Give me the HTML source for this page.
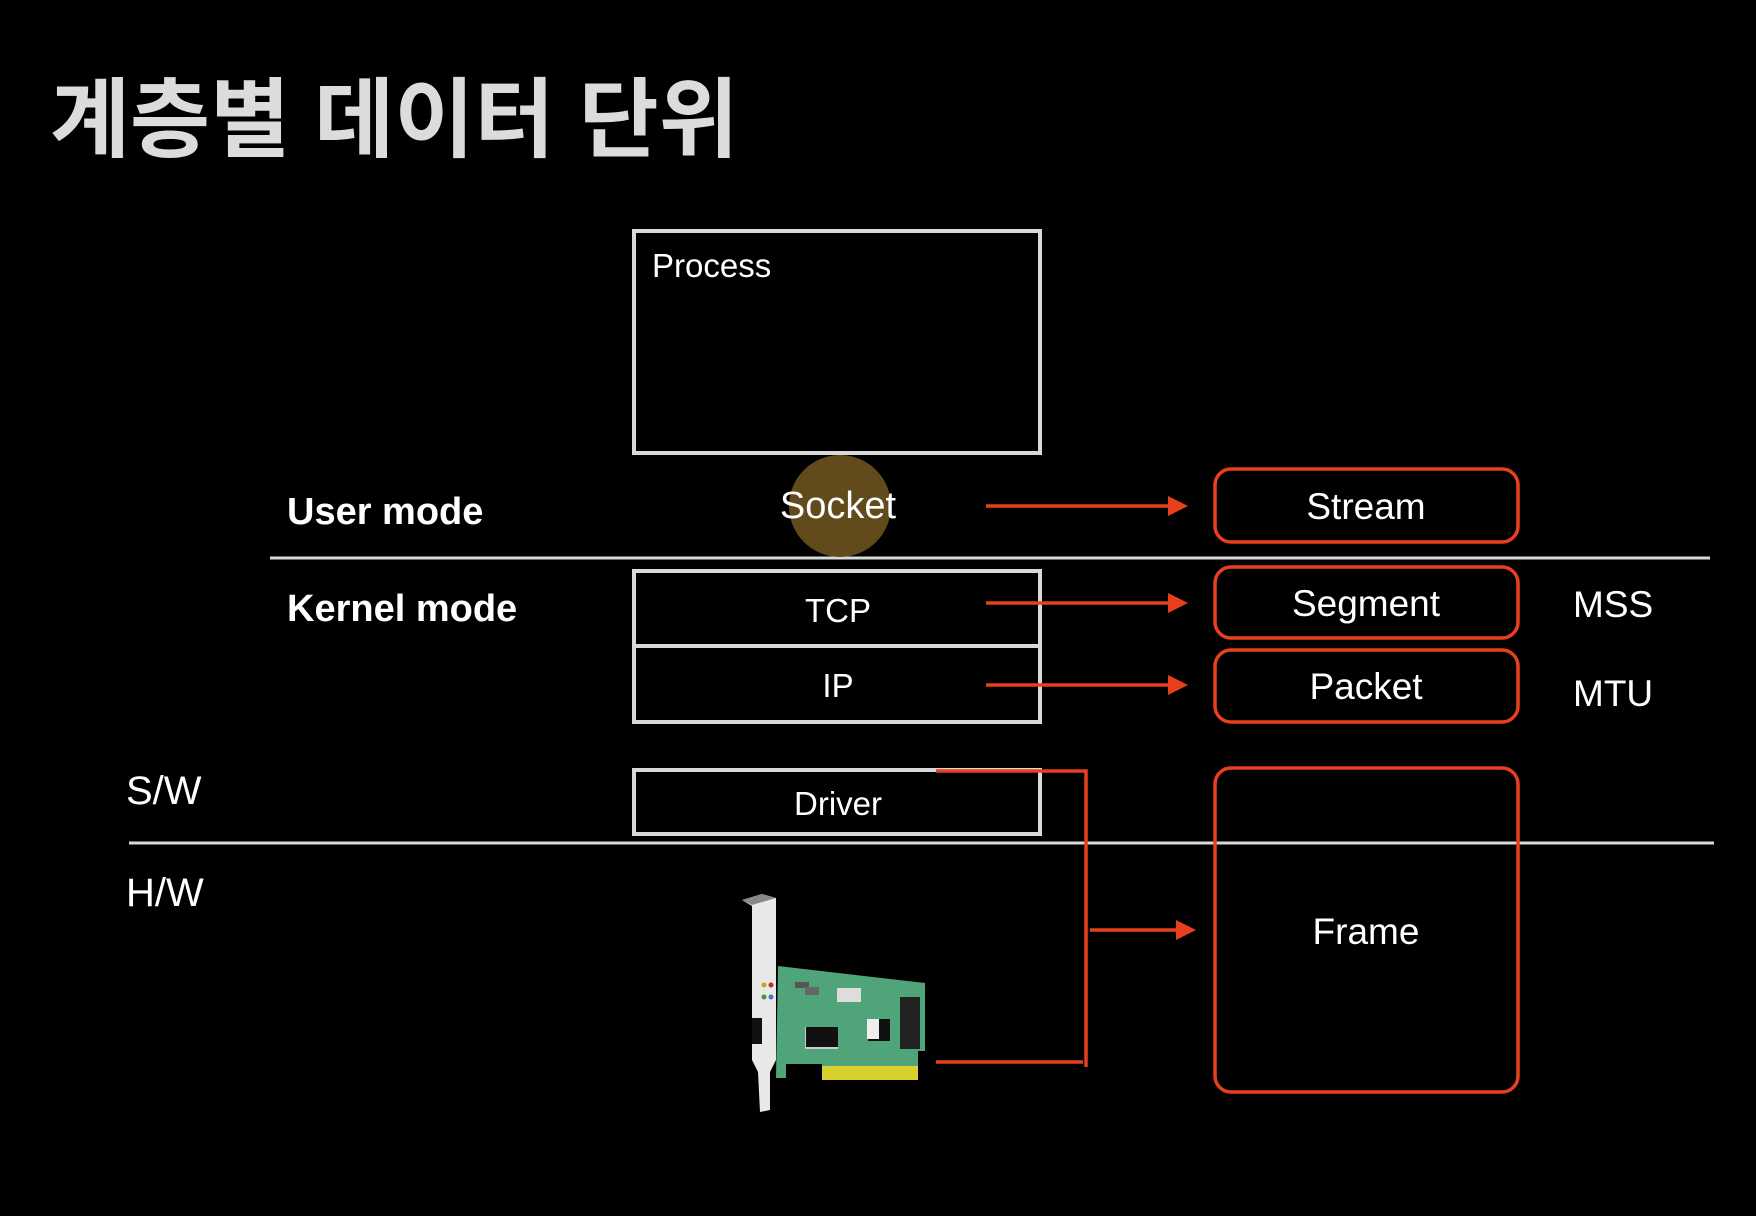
<!DOCTYPE html>
<html><head><meta charset="utf-8"><style>
html,body{margin:0;padding:0;background:#000;}
svg{display:block;}
text{font-family:"Liberation Sans","Noto Sans CJK KR",sans-serif;fill:#fff;}
</style></head><body>
<svg width="1756" height="1216" viewBox="0 0 1756 1216" xmlns="http://www.w3.org/2000/svg">
<rect width="1756" height="1216" fill="#000"/>
<text x="50" y="150" font-size="87" font-weight="bold" style="fill:#dcdcdc" font-family="'Noto Sans CJK KR',sans-serif">계층별 데이터 단위</text>

<g fill="none" stroke="#d9d9d9" stroke-width="4">
<rect x="634" y="231" width="406" height="222"/>
<rect x="634" y="571" width="406" height="75"/>
<rect x="634" y="646" width="406" height="76"/>
<rect x="634" y="770" width="406" height="64"/>
</g>
<line x1="270" y1="558" x2="1710" y2="558" stroke="#d9d9d9" stroke-width="3"/>
<line x1="129" y1="843" x2="1714" y2="843" stroke="#d9d9d9" stroke-width="3"/>

<circle cx="840" cy="506" r="51" fill="#614a1c"/>

<text x="652" y="277" font-size="33">Process</text>
<text x="287" y="524" font-size="38" font-weight="bold">User mode</text>
<text x="287" y="621" font-size="38" font-weight="bold">Kernel mode</text>
<text x="126" y="804" font-size="40">S/W</text>
<text x="126" y="906" font-size="40">H/W</text>
<text x="838" y="518" font-size="38" text-anchor="middle">Socket</text>
<text x="838" y="622" font-size="33" text-anchor="middle">TCP</text>
<text x="838" y="697" font-size="33" text-anchor="middle">IP</text>
<text x="838" y="815" font-size="33" text-anchor="middle">Driver</text>

<g fill="none" stroke="#e8401f" stroke-width="3.5">
<rect x="1215" y="469" width="303" height="73" rx="16"/>
<rect x="1215" y="567" width="303" height="71" rx="16"/>
<rect x="1215" y="650" width="303" height="72" rx="16"/>
<rect x="1215" y="768" width="303" height="324" rx="16"/>
<line x1="986" y1="506" x2="1172" y2="506"/>
<line x1="986" y1="603" x2="1172" y2="603"/>
<line x1="986" y1="685" x2="1172" y2="685"/>
<polyline points="936,771 1086,771 1086,1067"/>
<line x1="936" y1="1062" x2="1083" y2="1062"/>
<line x1="1090" y1="930" x2="1180" y2="930"/>
</g>
<g fill="#e8401f">
<polygon points="1168,496 1188,506 1168,516"/>
<polygon points="1168,593 1188,603 1168,613"/>
<polygon points="1168,675 1188,685 1168,695"/>
<polygon points="1176,920 1196,930 1176,940"/>
</g>

<text x="1366" y="519" font-size="37" text-anchor="middle">Stream</text>
<text x="1366" y="616" font-size="37" text-anchor="middle">Segment</text>
<text x="1366" y="699" font-size="37" text-anchor="middle">Packet</text>
<text x="1366" y="944" font-size="37" text-anchor="middle">Frame</text>
<text x="1573" y="617" font-size="37">MSS</text>
<text x="1573" y="706" font-size="37">MTU</text>

<g>
<polygon points="778,966 925,983 925,1051 918,1051 918,1080 822,1080 822,1064 786,1064 786,1078 776,1078" fill="#4fa47a"/>
<rect x="822" y="1066" width="96" height="14" fill="#d8d02e"/>
<rect x="795" y="982" width="14" height="6" fill="#555"/>
<rect x="805" y="987" width="14" height="8" fill="#666"/>
<rect x="837" y="988" width="24" height="14" fill="#ddd"/>
<rect x="805" y="1027" width="33" height="22" fill="#ccc"/>
<rect x="806" y="1027" width="32" height="20" fill="#111"/>
<rect x="868" y="1019" width="22" height="22" fill="#111"/>
<rect x="867" y="1019" width="12" height="20" fill="#eee"/>
<rect x="900" y="997" width="20" height="52" fill="#222"/>
<polygon points="742,900 762,894 776,898 776,1060 770,1072 770,1110 760,1112 758,1072 752,1060 752,906" fill="#e8e8e8"/>
<polygon points="742,900 762,894 776,898 752,905" fill="#888"/>
<rect x="752" y="1018" width="10" height="26" fill="#111"/>
<circle cx="764" cy="985" r="2.5" fill="#d4a020"/><circle cx="771" cy="985" r="2.5" fill="#b03030"/>
<circle cx="764" cy="997" r="2.5" fill="#3a9a3a"/><circle cx="771" cy="997" r="2.5" fill="#4a70c0"/>
</g>
</svg>
</body></html>
